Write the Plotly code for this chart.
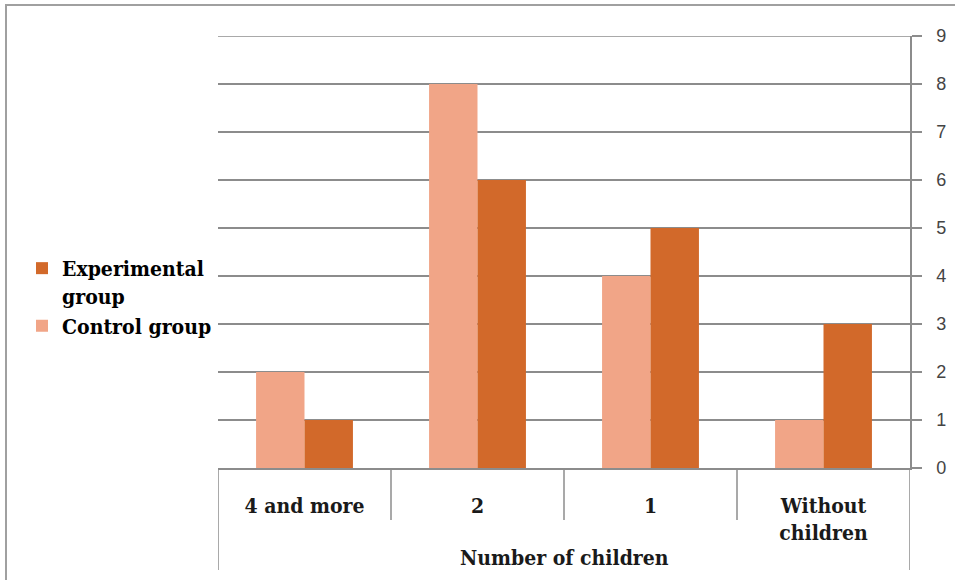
import plotly.graph_objects as go

categories = ["4 and more", "2", "1", "Without<br>children"]
control_values = [2, 8, 4, 1]
experimental_values = [1, 6, 5, 3]
y_ticks = list(range(0, 10))
x_title = "Number of children"

CONTROL_COLOR = "#F1A587"
EXPER_COLOR = "#D2692A"
GRID = "#8C8C8C"
SERIF = "DejaVu Serif Condensed, DejaVu Serif"

fig = go.Figure()
fig.add_trace(go.Bar(x=categories, y=control_values, name="<b>Control group</b>",
                     marker=dict(color=CONTROL_COLOR, line=dict(width=0))))
fig.add_trace(go.Bar(x=categories, y=experimental_values, name="<b>Experimental<br>group</b>",
                     marker=dict(color=EXPER_COLOR, line=dict(width=0))))

L, R, T, B = 218, 45, 36, 112
W, H = 955, 580
ph = H - T - B

def py(pix):
    return (H - B - pix) / ph

shapes = []
n = len(categories)
for i in range(n + 1):
    xb = i - 0.5
    bottom = 570 if i in (0, n) else 520
    shapes.append(dict(type="line", xref="x", yref="paper", x0=xb, x1=xb,
                       y0=0, y1=py(bottom), line=dict(color=GRID, width=1.5)))
shapes.append(dict(type="line", xref="paper", yref="y", x0=0, x1=1,
                   y0=y_ticks[-1], y1=y_ticks[-1], line=dict(color=GRID, width=1.5)))
shapes.append(dict(type="rect", xref="paper", yref="paper",
                   x0=(6 - L) / (W - L - R), x1=(W + 20 - L) / (W - L - R),
                   y0=py(H + 20), y1=py(5), line=dict(color="#A0A0A0", width=2),
                   fillcolor="rgba(0,0,0,0)", layer="below"))

fig.update_layout(
    width=W, height=H,
    margin=dict(l=L, r=R, t=T, b=B, autoexpand=False),
    paper_bgcolor="white", plot_bgcolor="white",
    font=dict(family=SERIF),
    barmode="group", bargap=0.44, bargroupgap=0,
    shapes=shapes,
    legend=dict(x=(22 - L) / (W - L - R), y=py(248), xanchor="left", yanchor="top",
                traceorder="reversed", valign="top",
                font=dict(family=SERIF, size=21, color="black"),
                bgcolor="rgba(0,0,0,0)", tracegroupgap=0, itemwidth=30),
    xaxis=dict(type="category", showgrid=False, showline=True, linecolor=GRID,
               linewidth=1.5, ticks="", ticklabelstandoff=18, automargin=False,
               tickfont=dict(family=SERIF, size=21, color="#1a1a1a"),
               tickvals=categories, ticktext=["<b>%s</b>" % c for c in categories],
               range=[-0.5, n - 0.5]),
    yaxis=dict(side="right", range=[0, 9], tickvals=y_ticks, showgrid=True,
               gridcolor=GRID, gridwidth=1.5, showline=True, linecolor=GRID,
               linewidth=1.5, ticks="outside", ticklen=10, tickcolor=GRID,
               tickwidth=1.5, ticklabelstandoff=11, zeroline=False, automargin=False,
               tickfont=dict(family="Liberation Sans", size=18, color="#444444")),
    annotations=[dict(text="<b>%s</b>" % x_title, xref="paper", yref="paper", x=0.5, y=py(557),
                      xanchor="center", yanchor="middle", showarrow=False,
                      font=dict(family=SERIF, size=21, color="#1a1a1a"))],
)

fig.write_html("out.html")
